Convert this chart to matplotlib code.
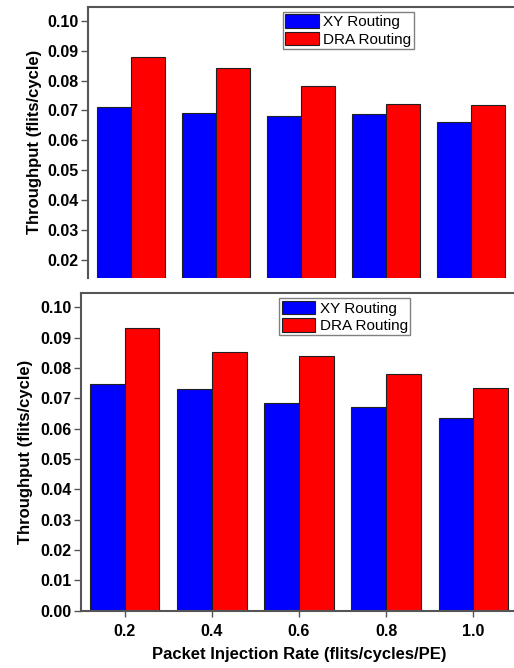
import numpy as np
import matplotlib
matplotlib.use("Agg")
import matplotlib.pyplot as plt

plt.rcParams['font.family'] = ['Liberation Sans', 'DejaVu Sans']

# injection rates (flits/cycles/PE)
rates = [0.2, 0.4, 0.6, 0.8, 1.0]
rate_labels = ['0.2', '0.4', '0.6', '0.8', '1.0']

# top panel throughput
xy_top = [0.0710, 0.0692, 0.0680, 0.0688, 0.0662]
dra_top = [0.0879, 0.0842, 0.0781, 0.0720, 0.0718]

# bottom panel throughput
xy_bot = [0.0746, 0.0730, 0.0684, 0.0671, 0.0636]
dra_bot = [0.0933, 0.0853, 0.0838, 0.0781, 0.0735]

yt_top = [0.02, 0.03, 0.04, 0.05, 0.06, 0.07, 0.08, 0.09, 0.10]
yt_bot = [0.00, 0.01, 0.02, 0.03, 0.04, 0.05, 0.06, 0.07, 0.08, 0.09, 0.10]

fig = plt.figure(figsize=(5.14, 6.68), dpi=100)
ax1 = fig.add_axes([0.1712, 0.5843, 0.8288, 0.4052])
ax2 = fig.add_axes([0.1576, 0.0858, 0.8482, 0.4760])

w = 0.08
x = np.array(rates)
spine_col = '#555555'


def draw(ax, xy, dra, yt, ylim, anchor, show_x):
    ax.bar(x - w / 2, xy, w, color='#0000FF', edgecolor='#202020', linewidth=0.8, label='XY Routing')
    ax.bar(x + w / 2, dra, w, color='#FF0000', edgecolor='#202020', linewidth=0.8, label='DRA Routing')
    ax.set_xlim(0.1, 1.1)
    ax.set_ylim(*ylim)
    ax.set_yticks(yt)
    ax.set_yticklabels(['%.2f' % v for v in yt], fontweight='bold', fontsize=11.5)
    ax.set_ylabel('Throughput (flits/cycle)', fontweight='bold', fontsize=12)
    ax.tick_params(axis='y', direction='out', length=5, width=1, color=spine_col, pad=2)
    for s in ['top', 'left', 'bottom']:
        ax.spines[s].set_color(spine_col)
        ax.spines[s].set_linewidth(1.5)
    ax.spines['right'].set_visible(False)
    if show_x:
        ax.set_xticks(rates)
        ax.set_xticklabels(rate_labels, fontweight='bold', fontsize=11.5)
        ax.tick_params(axis='x', direction='out', length=4.5, width=1, color=spine_col, pad=5)
        ax.set_xlabel('Packet Injection Rate (flits/cycles/PE)', fontweight='bold', fontsize=12, labelpad=6)
    else:
        ax.set_xticks([])
        ax.spines['bottom'].set_visible(False)
    leg = ax.legend(loc='upper left', bbox_to_anchor=anchor, borderaxespad=0, fontsize=11,
                    handlelength=2.2, handleheight=1.0, labelspacing=0.15, borderpad=0.15,
                    handletextpad=0.3, fancybox=False, framealpha=1)
    leg.get_frame().set_edgecolor('#808080')
    leg.get_frame().set_linewidth(1.0)


draw(ax1, xy_top, dra_top, yt_top, (0.014, 0.1046), (0.457, 0.982), False)
draw(ax2, xy_bot, dra_bot, yt_bot, (0.0, 0.1048), (0.455, 0.982), True)

ax1.yaxis.set_label_coords(-0.108, 0.5)
ax2.yaxis.set_label_coords(-0.109, 0.5)

fig.savefig('out.png', dpi=100)
